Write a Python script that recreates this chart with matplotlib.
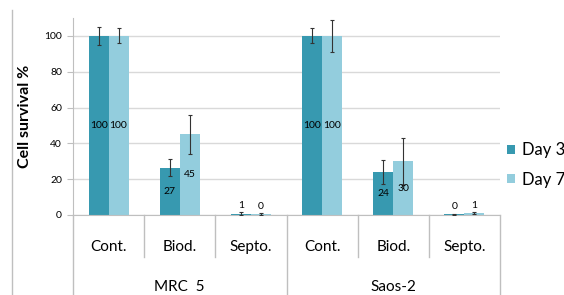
import matplotlib.pyplot as plt
import numpy as np
from matplotlib.lines import Line2D

plt.rcParams['font.family'] = ['Lato', 'DejaVu Sans']

# values
groups = ['MRC  5', 'Saos-2']
treatments = ['Cont.', 'Biod.', 'Septo.']
day3 = [100, 26.5, 0.8, 100, 24, 0.3]
day7 = [100, 45, 0.4, 100, 30, 1.0]
day3_err = [5, 4.6, 0.8, 4.2, 6.5, 0.3]
day7_err = [4.2, 11, 0.6, 9, 13, 0.4]
day3_labels = ['100', '27', '1', '100', '24', '0']
day7_labels = ['100', '45', '0', '100', '30', '1']

c3 = '#3799b0'
c7 = '#93cddd'
grid_c = '#d9d9d9'
line_c = '#bfbfbf'

fig = plt.figure(figsize=(5.64, 2.95), dpi=100)
ax = fig.add_axes([73 / 564, 1 - 215 / 295, 427 / 564, 197 / 295])

x = np.arange(len(day3))
w = 0.28
ax.bar(x - w / 2, day3, w, color=c3, label='Day 3', zorder=2)
ax.bar(x + w / 2, day7, w, color=c7, label='Day 7', zorder=2)
ax.errorbar(x - w / 2, day3, yerr=day3_err, fmt='none', ecolor='#333333',
            elinewidth=0.8, capsize=1.5, capthick=0.8, zorder=3)
ax.errorbar(x + w / 2, day7, yerr=day7_err, fmt='none', ecolor='#333333',
            elinewidth=0.8, capsize=1.5, capthick=0.8, zorder=3)

# data labels: centred in the bar, above it for tiny bars
for xs, vals, labs in [(x - w / 2, day3, day3_labels), (x + w / 2, day7, day7_labels)]:
    for xi, v, lab in zip(xs, vals, labs):
        y = v / 2 if v > 10 else v + 4.5
        ax.text(xi, y, lab, ha='center', va='center', fontsize=7.5, color='black', zorder=4)

ax.set_xlim(-0.5, 5.5)
ax.set_ylim(0, 110)
ax.set_yticks([0, 20, 40, 60, 80, 100])
ax.yaxis.grid(True, color=grid_c, linewidth=1, zorder=0)
ax.tick_params(axis='y', labelsize=7.5, length=4, color=line_c, pad=4)
ax.set_xticks([])
for s in ['top', 'right']:
    ax.spines[s].set_visible(False)
ax.spines['left'].set_color(line_c)
ax.spines['bottom'].set_color(line_c)
ax.set_ylabel('Cell survival %', fontsize=11.5, fontweight='bold')
ax.yaxis.set_label_coords(-0.096, 0.5)

# category axis: labels and divider lines below the plot
tr = ax.get_xaxis_transform()
for i in range(len(day3)):
    ax.text(i, -0.16, treatments[i % 3], transform=tr, ha='center', va='center', fontsize=11)
for b in [0.5, 1.5, 3.5, 4.5]:
    ax.plot([b, b], [0, -0.215], transform=tr, color=line_c, lw=1, clip_on=False)
for b in [-0.5, 2.5, 5.5]:
    ax.plot([b, b], [0, -0.41], transform=tr, color=line_c, lw=1, clip_on=False)
for gi, g in enumerate(groups):
    ax.text(1 + 3 * gi, -0.365, g, transform=tr, ha='center', va='center', fontsize=11)

fig.add_artist(Line2D([12 / 564, 12 / 564], [0, 1 - 10 / 295], color=line_c, lw=1))

ax.legend(loc='center left', bbox_to_anchor=(1.016, 0.254), frameon=False, fontsize=12,
          handlelength=0.5, handleheight=0.5, handletextpad=0.4, labelspacing=0.8,
          borderaxespad=0, borderpad=0)

fig.savefig('out.png', dpi=100)
